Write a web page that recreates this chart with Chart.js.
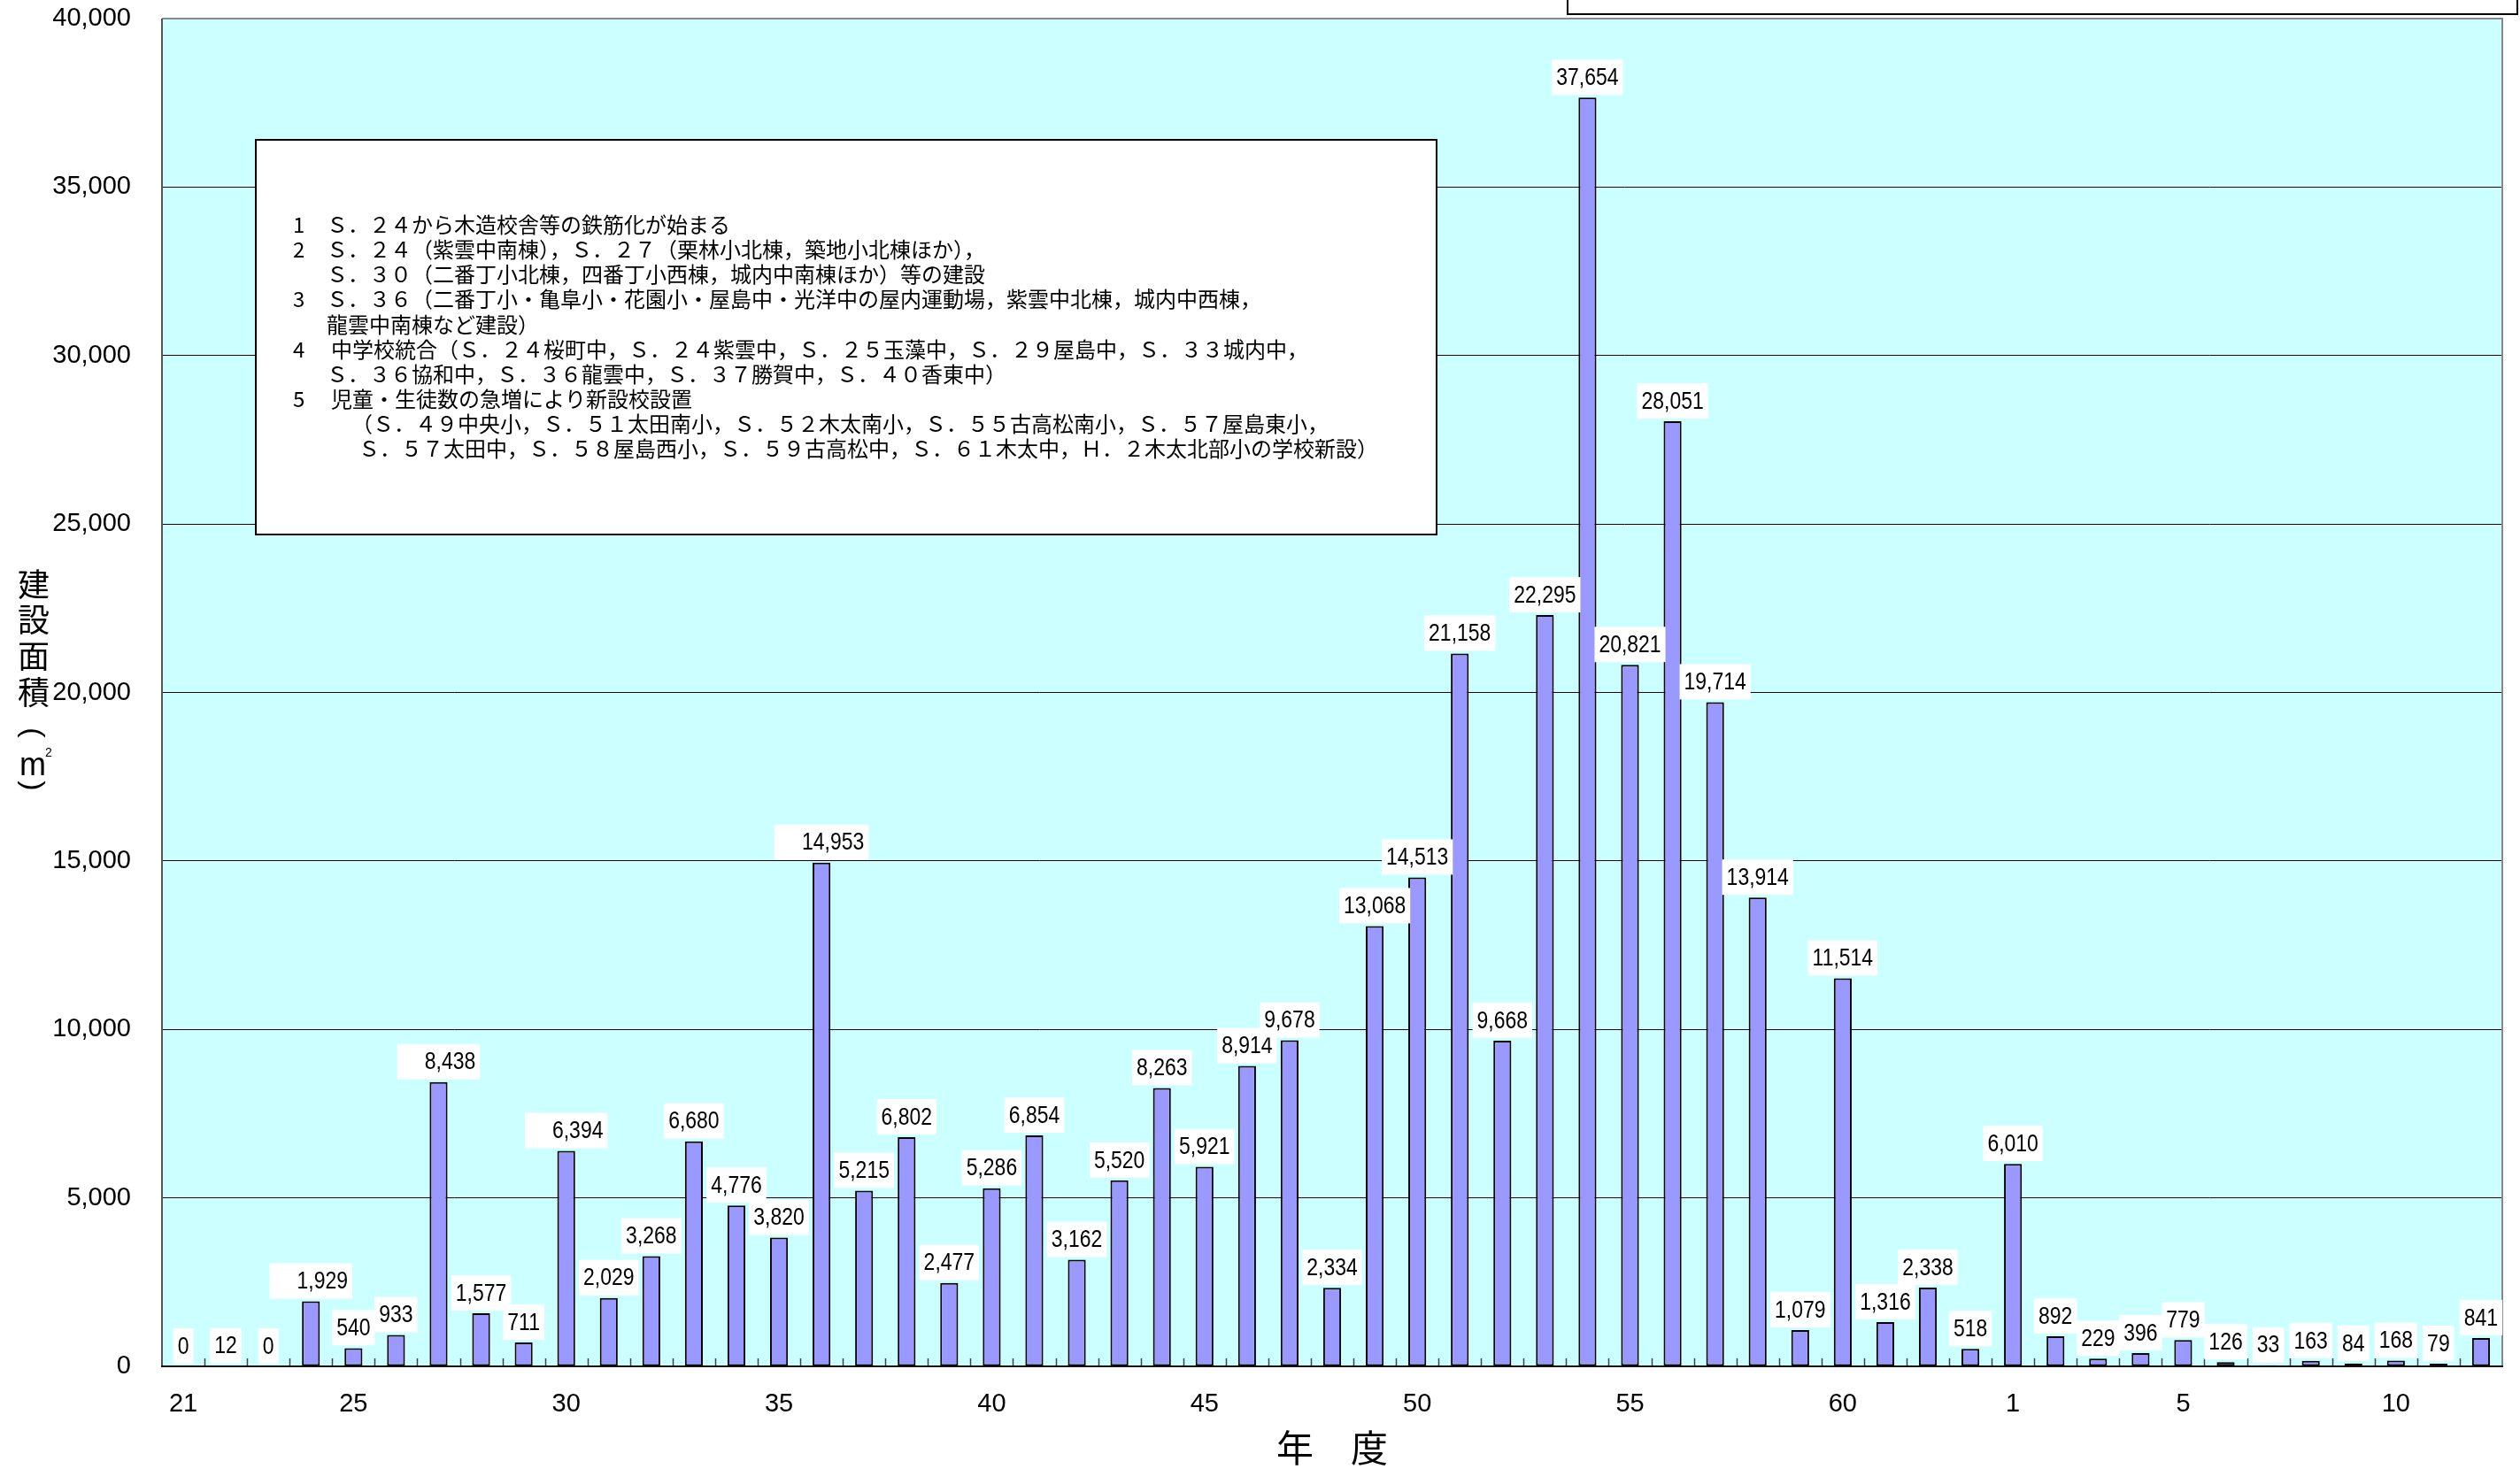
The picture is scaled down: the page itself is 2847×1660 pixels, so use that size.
<!DOCTYPE html>
<html><head><meta charset="utf-8">
<script src="https://cdn.jsdelivr.net/npm/chart.js@4/dist/chart.umd.min.js"></script>
<style>html,body{margin:0;padding:0;background:#fff;overflow:hidden}#wrap{width:2847px;height:1660px;position:relative}canvas{display:block}</style>
</head><body><div id="wrap"><canvas id="c" width="2847" height="1660" style="width:2847px;height:1660px"></canvas></div>
<script>
// 年度 (S.21 - S.63, H.1 - H.12)
const years = ['21','22','23','24','25','26','27','28','29','30','31','32','33','34','35','36','37','38','39','40','41','42','43','44','45','46','47','48','49','50','51','52','53','54','55','56','57','58','59','60','61','62','63','1','2','3','4','5','6','7','8','9','10','11','12'];
// 建設面積 (㎡)
const areaValues = [0,12,0,1929,540,933,8438,1577,711,6394,2029,3268,6680,4776,3820,14953,5215,6802,2477,5286,6854,3162,5520,8263,5921,8914,9678,2334,13068,14513,21158,9668,22295,37654,20821,28051,19714,13914,1079,11514,1316,2338,518,6010,892,229,396,779,126,33,163,84,168,79,841];
// x tick labels shown
const shownYearTicks = ['21','25','30','35','40','45','50','55','60','1','5','10'];
// y tick values
const yTickMax = 40000;
const yTickStep = 5000;
// titles
const yTitleChars = ['建','設','面','積'];
const yTitleUnit = ['(','m','2',')'];
const xTitle = '年　度';
// notes
const noteNumbers = ['1','2','','3','','4','','5','',''];
const noteLines = [
 'Ｓ．２４から木造校舎等の鉄筋化が始まる',
 'Ｓ．２４（紫雲中南棟），Ｓ．２７（栗林小北棟，築地小北棟ほか），',
 'Ｓ．３０（二番丁小北棟，四番丁小西棟，城内中南棟ほか）等の建設',
 'Ｓ．３６（二番丁小・亀阜小・花園小・屋島中・光洋中の屋内運動場，紫雲中北棟，城内中西棟，',
 '龍雲中南棟など建設）',
 '中学校統合（Ｓ．２４桜町中，Ｓ．２４紫雲中，Ｓ．２５玉藻中，Ｓ．２９屋島中，Ｓ．３３城内中，',
 'Ｓ．３６協和中，Ｓ．３６龍雲中，Ｓ．３７勝賀中，Ｓ．４０香東中）',
 '児童・生徒数の急増により新設校設置',
 '（Ｓ．４９中央小，Ｓ．５１太田南小，Ｓ．５２木太南小，Ｓ．５５古高松南小，Ｓ．５７屋島東小，',
 'Ｓ．５７太田中，Ｓ．５８屋島西小，Ｓ．５９古高松中，Ｓ．６１木太中，Ｈ．２木太北部小の学校新設）'
];

const noteIndent = [369,369,369,369,369,374,369,374,397,405];
const wideLabelIdx = new Set([3,6,9,15]);
const labelFont = '28px "Liberation Sans", Arial, sans-serif';
const labelSqueeze = 0.82;
const tickFont = {family:'"Liberation Sans", Arial, sans-serif', size:29};
const cjk = '"Noto Sans CJK JP", "Noto Sans CJK SC", sans-serif';
const latin = '"Liberation Sans", Arial, sans-serif';

const decor = {
  id:'decor',
  beforeDraw(chart){
    const {ctx, chartArea:a} = chart;
    ctx.save();
    ctx.fillStyle = '#CCFFFF';
    ctx.fillRect(a.left, a.top, a.right-a.left, a.bottom-a.top);
    ctx.restore();
  },
  afterDatasetsDraw(chart){
    const {ctx, chartArea:a} = chart;
    const xs = chart.scales.x;
    ctx.save();
    ctx.strokeStyle = '#444'; ctx.lineWidth = 1.5;
    for (let i=1;i<years.length;i++){
      const px = Math.round((xs.getPixelForValue(i-1)+xs.getPixelForValue(i))/2)+0.5;
      ctx.beginPath(); ctx.moveTo(px, a.bottom); ctx.lineTo(px, a.bottom-9); ctx.stroke();
    }
    ctx.lineWidth = 2;
    ctx.strokeStyle = '#888';
    ctx.beginPath(); ctx.moveTo(a.left, a.top); ctx.lineTo(a.right, a.top); ctx.lineTo(a.right, a.bottom); ctx.stroke();
    ctx.strokeStyle = '#555';
    ctx.beginPath(); ctx.moveTo(a.left, a.top); ctx.lineTo(a.left, a.bottom); ctx.stroke();
    ctx.strokeStyle = '#111';
    ctx.beginPath(); ctx.moveTo(a.left-1, a.bottom); ctx.lineTo(a.right+1, a.bottom); ctx.stroke();
    const meta = chart.getDatasetMeta(0);
    ctx.font = labelFont;
    ctx.textBaseline = 'middle';
    meta.data.forEach((bar, i) => {
      const txt = areaValues[i].toLocaleString('en-US');
      const tw = ctx.measureText(txt).width * labelSqueeze;
      const extra = wideLabelIdx.has(i) ? 26 : 0;
      const bw = tw + 10 + extra, bh = 40;
      const bx = bar.x - bw/2, by = bar.y - 3 - bh;
      ctx.fillStyle = '#fff';
      ctx.fillRect(bx, by, bw, bh);
      ctx.fillStyle = '#000';
      ctx.textAlign = 'right';
      ctx.save();
      ctx.translate(bx + bw - 5, by + bh/2 + 1);
      ctx.scale(labelSqueeze, 1);
      ctx.fillText(txt, 0, 0);
      ctx.restore();
    });
    ctx.restore();
  },
  afterDraw(chart){
    const {ctx, chartArea:a} = chart;
    ctx.save();
    ctx.fillStyle = '#fff'; ctx.strokeStyle = '#000'; ctx.lineWidth = 2;
    ctx.fillRect(1770, -10, 1075, 26); ctx.strokeRect(1771, -10, 1073, 26);
    ctx.fillRect(289, 158, 1334, 446); ctx.strokeRect(289, 158, 1334, 446);
    ctx.fillStyle = '#000';
    ctx.font = '24px ' + cjk;
    ctx.textBaseline = 'middle'; ctx.textAlign = 'left';
    noteLines.forEach((t, i) => {
      const y = 254 + i*28.1;
      if (noteNumbers[i]) ctx.fillText(noteNumbers[i], 331, y);
      ctx.fillText(t, noteIndent[i], y);
    });
    // y title (vertical)
    ctx.font = '36px ' + cjk; ctx.textAlign = 'center';
    const ys = [660,700,741,782];
    yTitleChars.forEach((ch,i)=> ctx.fillText(ch, 38, ys[i]));
    // rotated parentheses, m with superscript 2
    ctx.save(); ctx.translate(36, 828); ctx.rotate(Math.PI/2); ctx.font = '34px ' + latin; ctx.fillText(yTitleUnit[0], 0, 0); ctx.restore();
    ctx.font = '36px ' + latin;
    ctx.fillText(yTitleUnit[1], 37, 866);
    ctx.font = '14px ' + latin;
    ctx.fillText(yTitleUnit[2], 55, 851);
    ctx.save(); ctx.translate(36, 888); ctx.rotate(Math.PI/2); ctx.font = '34px ' + latin; ctx.fillText(yTitleUnit[3], 0, 0); ctx.restore();
    // x title
    ctx.font = '42px ' + cjk;
    ctx.fillText(xTitle, (a.left+a.right)/2, 1636);
    ctx.restore();
  }
};

new Chart(document.getElementById('c'), {
  type:'bar',
  data:{ labels: years, datasets:[{ data: areaValues, backgroundColor:'#9999FF', borderColor:'#000', borderWidth:2, borderSkipped:false, barPercentage:0.42, categoryPercentage:1 }]},
  options:{
    responsive:false, maintainAspectRatio:false, animation:false, devicePixelRatio:1,
    layout:{padding:{left:0, top:21, right:20, bottom:0}},
    plugins:{legend:{display:false}, tooltip:{enabled:false}},
    scales:{
      x:{
        grid:{display:false, drawTicks:false},
        border:{display:false},
        ticks:{autoSkip:false, maxRotation:0, minRotation:0, padding:26, color:'#000', font:tickFont,
          callback:(v,i)=> shownYearTicks.includes(years[i]) ? years[i] : ''},
        afterFit:(s)=>{ s.height = 116; s.paddingLeft = 0; s.paddingRight = 0; }
      },
      y:{
        min:0, max:yTickMax,
        grid:{color:'#000', lineWidth:1, drawTicks:false},
        border:{display:false},
        ticks:{stepSize:yTickStep, padding:35, color:'#000', font:tickFont,
          callback:(v)=> Number(v).toLocaleString('en-US')},
        afterFit:(s)=>{ s.width = 183; s.paddingTop = 0; s.paddingBottom = 0; }
      }
    }
  },
  plugins:[decor]
});
</script>
</body></html>
